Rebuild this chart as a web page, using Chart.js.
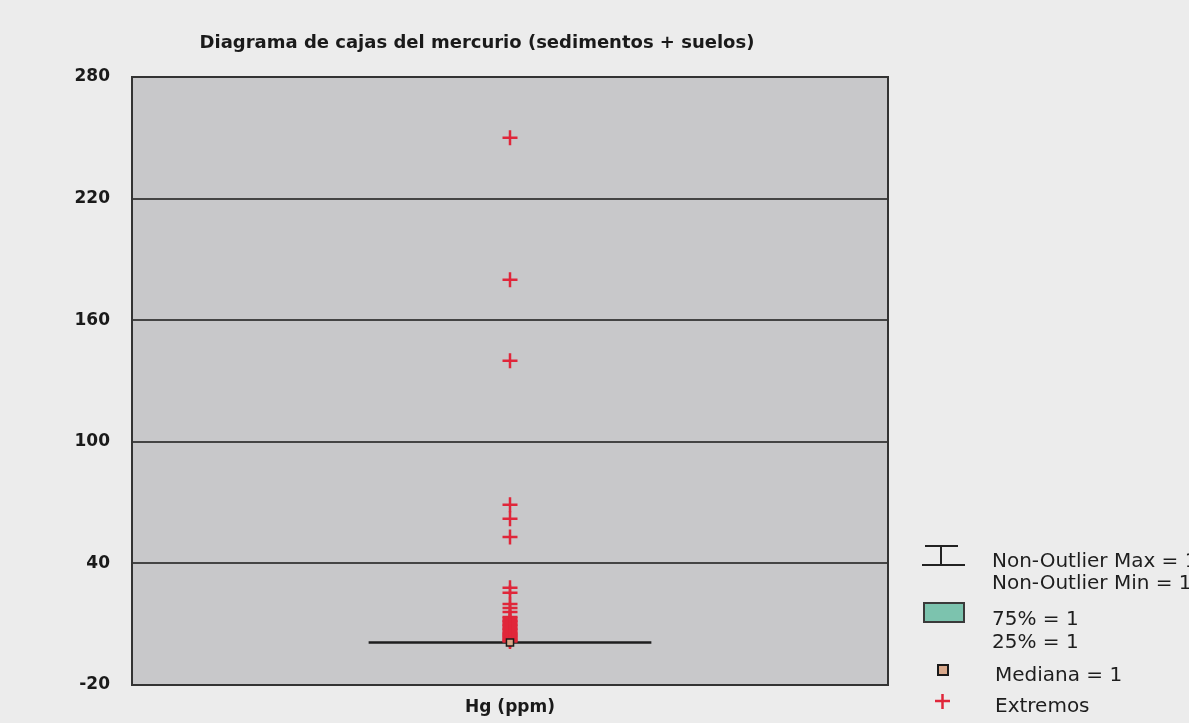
<!DOCTYPE html>
<html lang="es">
<head>
<meta charset="UTF-8">
<title>Diagrama de cajas del mercurio</title>
<script src="https://cdn.jsdelivr.net/npm/chart.js"></script>
<style>
  html, body { margin: 0; padding: 0; background: #ececec; }
</style>
</head>
<body>
<canvas id="boxChart" width="1189" height="723"></canvas>
<script>
var categories = ['Hg (ppm)'];
var extremos = [250, 180, 140, 69, 62, 53, 28, 25.5, 20, 18, 16, 13.5, 13, 12, 11.5, 11, 10, 9.5, 9, 8, 7.5, 7, 6, 5.5, 5, 4.5, 4, 3.5, 3, 2.5, 2, 1.5];
var mediana = 1;
var p25 = 1;
var p75 = 1;
var noOutlierMin = 1;
var noOutlierMax = 1;
var yMin = -20, yMax = 280, yStep = 60;

var centro = 0.5;
var mitadCaja = 0.187;

var rojo = '#e0263a';
var fondoPagina = '#ececec';
var fondoGrafico = '#c8c8ca';

Chart.defaults.font.family = 'DejaVu Sans';
Chart.defaults.color = '#1e1e1e';

var marco = {
    id: 'marco',
    beforeDraw: function (chart) {
        var ctx = chart.ctx, a = chart.chartArea;
        ctx.save();
        ctx.fillStyle = fondoPagina;
        ctx.fillRect(0, 0, chart.width, chart.height);
        ctx.fillStyle = fondoGrafico;
        ctx.fillRect(a.left, a.top, a.right - a.left, a.bottom - a.top);
        ctx.restore();
    },
    beforeDatasetsDraw: function (chart) {
        var ctx = chart.ctx, a = chart.chartArea;
        ctx.save();
        ctx.strokeStyle = '#333';
        ctx.lineWidth = 2;
        ctx.strokeRect(a.left, a.top, a.right - a.left, a.bottom - a.top);
        ctx.restore();
    },
    afterDraw: function (chart) {
        var ctx = chart.ctx;
        ctx.save();
        // titulo
        ctx.fillStyle = '#1a1a1a';
        ctx.font = 'bold 18px "DejaVu Sans"';
        ctx.textAlign = 'center';
        ctx.textBaseline = 'middle';
        ctx.fillText('Diagrama de cajas del mercurio (sedimentos + suelos)', 477, 43);

        // leyenda
        ctx.strokeStyle = '#222';
        ctx.lineWidth = 2;
        ctx.beginPath();
        ctx.moveTo(925, 546); ctx.lineTo(958, 546);
        ctx.moveTo(941, 546); ctx.lineTo(941, 565);
        ctx.moveTo(922, 565); ctx.lineTo(965, 565);
        ctx.stroke();

        ctx.fillStyle = '#7cc3ae';
        ctx.fillRect(924, 603, 40, 19);
        ctx.strokeStyle = '#3a3a3a';
        ctx.strokeRect(924, 603, 40, 19);

        ctx.fillStyle = '#d9a98c';
        ctx.fillRect(938, 665, 10, 10);
        ctx.strokeStyle = '#1a1a1a';
        ctx.strokeRect(938, 665, 10, 10);

        ctx.strokeStyle = rojo;
        ctx.lineWidth = 2.5;
        ctx.beginPath();
        ctx.moveTo(935, 701); ctx.lineTo(950, 701);
        ctx.moveTo(942.5, 694); ctx.lineTo(942.5, 709);
        ctx.stroke();

        ctx.fillStyle = '#1e1e1e';
        ctx.font = '20px "DejaVu Sans"';
        ctx.textAlign = 'left';
        ctx.fillText('Non-Outlier Max = ' + noOutlierMax, 992, 562);
        ctx.fillText('Non-Outlier Min = ' + noOutlierMin, 992, 584);
        ctx.fillText('75% = ' + p75, 992, 620);
        ctx.fillText('25% = ' + p25, 992, 643);
        ctx.fillText('Mediana = ' + mediana, 995, 676);
        ctx.fillText('Extremos', 995, 707);
        ctx.restore();
    }
};

var cajaDatos = [
    { x: centro - mitadCaja, y: p25 },
    { x: centro + mitadCaja, y: p25 },
    { x: centro + mitadCaja, y: p75 },
    { x: centro - mitadCaja, y: p75 },
    { x: centro - mitadCaja, y: p25 }
];

var bigoteDatos = [
    { x: centro, y: p75 }, { x: centro, y: noOutlierMax }, { x: centro, y: null },
    { x: centro, y: p25 }, { x: centro, y: noOutlierMin }
];

var extremosDatos = extremos.map(function (v) { return { x: centro, y: v }; });

var ctx = document.getElementById('boxChart').getContext('2d');
var grafico = new Chart(ctx, {
    type: 'scatter',
    data: {
        datasets: [
            {
                label: 'Mediana',
                data: [{ x: centro, y: mediana }],
                pointStyle: 'rect',
                pointRadius: 5,
                backgroundColor: '#d9a98c',
                borderColor: '#1a1a1a',
                borderWidth: 1.5,
                order: 0
            },
            {
                label: 'Extremos',
                data: extremosDatos,
                pointStyle: 'cross',
                pointRadius: 7.5,
                borderColor: rojo,
                borderWidth: 2.5,
                order: 1
            },
            {
                type: 'line',
                label: 'Caja',
                data: cajaDatos,
                borderColor: '#1e1e1e',
                borderWidth: 2.5,
                backgroundColor: '#7cc3ae',
                fill: false,
                pointRadius: 0,
                order: 2
            },
            {
                type: 'line',
                label: 'Bigotes',
                data: bigoteDatos,
                borderColor: '#1e1e1e',
                borderWidth: 2.5,
                pointRadius: 0,
                spanGaps: false,
                order: 3
            }
        ]
    },
    options: {
        responsive: false,
        animation: false,
        devicePixelRatio: 1,
        layout: { padding: { left: 0, right: 301, top: 77, bottom: 0 } },
        plugins: {
            legend: { display: false },
            tooltip: { enabled: false }
        },
        scales: {
            x: {
                type: 'linear',
                min: 0,
                max: 1,
                afterBuildTicks: function (axis) { axis.ticks = [{ value: centro }]; },
                afterFit: function (axis) { axis.height = 38; },
                ticks: {
                    callback: function () { return categories[0]; },
                    font: { size: 17, weight: 'bold' },
                    color: '#1a1a1a',
                    padding: 12
                },
                grid: { display: false, drawTicks: false },
                border: { display: false }
            },
            y: {
                min: yMin,
                max: yMax,
                afterFit: function (axis) { axis.width = 132; },
                ticks: {
                    stepSize: yStep,
                    font: { size: 17, weight: 'bold' },
                    color: '#1a1a1a',
                    padding: 22
                },
                grid: { color: '#444', lineWidth: 2, drawTicks: false },
                border: { display: false }
            }
        }
    },
    plugins: [marco]
});
</script>
</body>
</html>
